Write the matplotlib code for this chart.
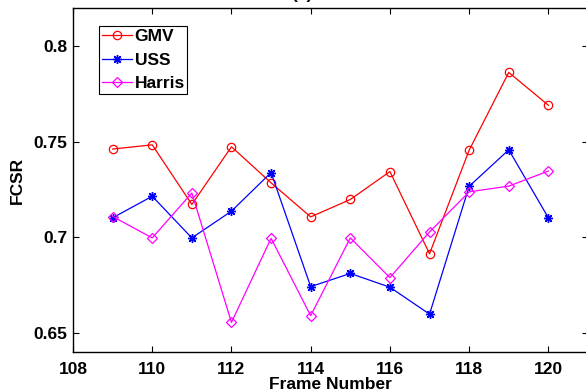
import matplotlib
matplotlib.use("Agg")
import matplotlib.pyplot as plt

frames = [109, 110, 111, 112, 113, 114, 115, 116, 117, 118, 119, 120]
gmv = [0.7462, 0.7484, 0.7172, 0.7474, 0.7285, 0.7107, 0.7198, 0.7344, 0.6914, 0.7456, 0.7863, 0.7691]
uss = [0.7102, 0.7215, 0.6997, 0.7137, 0.7339, 0.6742, 0.6811, 0.6739, 0.6598, 0.7267, 0.7458, 0.7102]
harris = [0.7109, 0.6997, 0.7232, 0.6555, 0.6995, 0.6590, 0.6997, 0.6789, 0.7028, 0.7238, 0.7268, 0.7347]
xticks = [108, 110, 112, 114, 116, 118, 120]
yticks = [0.65, 0.7, 0.75, 0.8]
ytick_labels = ["0.65", "0.7", "0.75", "0.8"]

plt.rcParams['font.family'] = ['Liberation Sans', 'DejaVu Sans']
plt.rcParams['font.weight'] = 'bold'

W, H = 586, 392
fig = plt.figure(figsize=(W / 100, H / 100), dpi=100)
L, R, T, B = 73, 588, 8, 352
ax = fig.add_axes([L / W, 1 - B / H, (R - L) / W, (B - T) / H])

ax.plot(frames, gmv, color='red', lw=0.9, marker='o', ms=6, mfc='none', mec='red', mew=0.9, label='GMV')
ax.plot(frames, uss, color='blue', lw=0.9, marker=(8, 2, 0), ms=6.5, mfc='blue', mec='blue', mew=1.0, label='USS')
ax.plot(frames, harris, color='magenta', lw=0.9, marker='D', ms=5, mfc='none', mec='magenta', mew=0.9, label='Harris')

ax.set_xlim(108, 121)
ax.set_ylim(0.64, 0.82)
ax.set_xticks(xticks)
ax.set_yticks(yticks)
ax.set_yticklabels(ytick_labels)
ax.tick_params(direction='in', length=4.5, width=0.8, labelsize=12.5, top=True, right=True)
ax.tick_params(axis='x', pad=7)
ax.tick_params(axis='y', pad=4)
for lab in ax.get_xticklabels() + ax.get_yticklabels():
    lab.set_fontweight('bold')
for s in ax.spines.values():
    s.set_linewidth(1.0)
ax.set_xlabel('Frame Number', fontsize=12.5, fontweight='bold', labelpad=0)
ax.set_ylabel('FCSR', fontsize=12.5, fontweight='bold', labelpad=6)

leg = ax.legend(loc='upper left', bbox_to_anchor=((99 - L) / (R - L), 1 - (26 - T) / (B - T)),
                frameon=True, fancybox=False, edgecolor='black', framealpha=1,
                prop={'family': 'Liberation Sans', 'weight': 'bold', 'size': 12.5},
                handlelength=1.75, handletextpad=0.15, borderpad=0.15, labelspacing=0.5,
                borderaxespad=0)
leg.get_frame().set_linewidth(0.8)

fig.text(302 / W, 1 - 2.5 / H, '(a)', ha='center', va='bottom', fontsize=12.5, fontweight='bold')

fig.savefig('out.png', dpi=100)
